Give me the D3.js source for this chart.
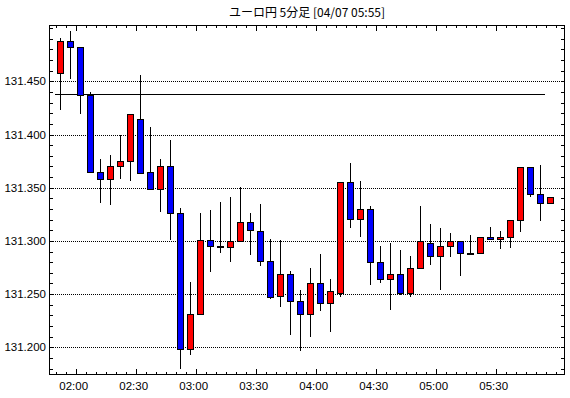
<!DOCTYPE html>
<html>
<head>
<meta charset="utf-8">
<script src="https://cdn.jsdelivr.net/npm/d3@7"></script>
<style>
body { margin: 0; background: #fff; }
text { font-family: "Liberation Sans", Arial, sans-serif; fill: #000; }
</style>
</head>
<body>
<div id="chart"></div>
<script>
// 5-minute candles, 04/07 01:50 - 05:55
var times = ["01:50","01:55","02:00","02:05","02:10","02:15","02:20","02:25","02:30","02:35",
	"02:40","02:45","02:50","02:55","03:00","03:05","03:10","03:15","03:20","03:25",
	"03:30","03:35","03:40","03:45","03:50","03:55","04:00","04:05","04:10","04:15",
	"04:20","04:25","04:30","04:35","04:40","04:45","04:50","04:55","05:00","05:05",
	"05:10","05:15","05:20","05:25","05:30","05:35","05:40","05:45","05:50","05:55"];

var openVals = [131.458,131.488,131.482,131.437,131.365,131.358,131.370,131.375,131.415,131.365,
	131.349,131.370,131.326,131.198,131.231,131.301,131.295,131.294,131.300,131.318,
	131.309,131.281,131.248,131.269,131.244,131.231,131.260,131.242,131.251,131.355,
	131.321,131.330,131.280,131.264,131.269,131.251,131.275,131.298,131.286,131.295,
	131.300,131.289,131.289,131.304,131.302,131.304,131.320,131.369,131.344,131.336];
var highVals = [131.491,131.497,131.482,131.440,131.377,131.381,131.400,131.419,131.456,131.407,
	131.377,131.395,131.331,131.261,131.326,131.329,131.337,131.341,131.351,131.326,
	131.335,131.302,131.301,131.272,131.254,131.275,131.288,131.264,131.355,131.373,
	131.356,131.333,131.295,131.298,131.291,131.286,131.333,131.316,131.312,131.307,
	131.300,131.306,131.304,131.313,131.309,131.320,131.369,131.369,131.371,131.341];
var lowVals = [131.423,131.452,131.419,131.364,131.336,131.334,131.358,131.356,131.364,131.348,
	131.327,131.301,131.180,131.193,131.230,131.271,131.289,131.280,131.300,131.287,
	131.276,131.245,131.238,131.212,131.197,131.210,131.234,131.214,131.247,131.312,
	131.304,131.259,131.260,131.235,131.249,131.247,131.275,131.277,131.254,131.285,
	131.267,131.289,131.288,131.302,131.292,131.293,131.308,131.341,131.319,131.335];
var closeVals = [131.488,131.482,131.437,131.365,131.358,131.370,131.375,131.419,131.364,131.349,
	131.370,131.326,131.198,131.231,131.301,131.295,131.295,131.300,131.318,131.310,
	131.281,131.247,131.269,131.244,131.231,131.260,131.242,131.253,131.355,131.321,
	131.330,131.280,131.264,131.269,131.251,131.275,131.300,131.286,131.295,131.300,
	131.289,131.289,131.304,131.302,131.304,131.320,131.369,131.344,131.336,131.341];

var refLine = 131.438;
var yLabels = ["131.200","131.250","131.300","131.350","131.400","131.450"];
var xLabels = ["02:00","02:30","03:00","03:30","04:00","04:30","05:00","05:30"];
var title = "ユーロ円 5分足 [04/07 05:55]";

var svgWidth = 570,
	svgHeight = 398,
	plotL = 49, plotR = 565, plotT = 25, plotB = 375;

var parse = function (s) {
	var p = s.split(':');
	return new Date(2021, 3, 7, +p[0], +p[1]);
};

var candles = times.map(function (t, i) {
	return { t: parse(t), o: openVals[i], h: highVals[i], l: lowVals[i], c: closeVals[i] };
});

var xscale = d3.scaleTime()
	.domain([new Date(2021, 3, 7, 1, 46, 40), new Date(2021, 3, 7, 6, 4, 40)])
	.range([plotL, plotR]);

var yscale = d3.scaleLinear()
	.domain([131.174, 131.5029])
	.range([plotB, plotT]);

var cx = function (d) {
	return Math.round(xscale(d3.timeSecond.offset(d.t, 135)));
};

var svg = d3.select('#chart')
	.append('svg')
	.attr('width', svgWidth)
	.attr('height', svgHeight)
	.style('display', 'block');

svg.append('rect')
	.attr('width', svgWidth).attr('height', svgHeight).attr('fill', '#fff');

// title
svg.append('text')
	.attr('x', (plotL + plotR) / 2)
	.attr('y', 17)
	.attr('text-anchor', 'middle')
	.style('font-family', '"Noto Sans CJK JP", sans-serif')
	.style('font-size', '12px')
	.text(title);

// dotted grid
svg.append('g').selectAll('line').data(yLabels)
	.enter().append('line')
	.attr('x1', plotL).attr('x2', plotR)
	.attr('y1', function (d) { return Math.round(yscale(+d)) + 0.5; })
	.attr('y2', function (d) { return Math.round(yscale(+d)) + 0.5; })
	.attr('stroke', '#000')
	.attr('stroke-dasharray', '1,1')
	.attr('shape-rendering', 'crispEdges');

// y ticks every 0.010
var yTicks = d3.range(13118, 13151).map(function (d) { return d / 100; });
var ytk = svg.append('g').attr('shape-rendering', 'crispEdges');
ytk.selectAll('line.l').data(yTicks).enter().append('line')
	.attr('class', 'l')
	.attr('x1', plotL).attr('x2', plotL + 4)
	.attr('y1', function (d) { return Math.round(yscale(d)) + 0.5; })
	.attr('y2', function (d) { return Math.round(yscale(d)) + 0.5; })
	.attr('stroke', '#000');
ytk.selectAll('line.r').data(yTicks).enter().append('line')
	.attr('class', 'r')
	.attr('x1', plotR - 4).attr('x2', plotR)
	.attr('y1', function (d) { return Math.round(yscale(d)) + 0.5; })
	.attr('y2', function (d) { return Math.round(yscale(d)) + 0.5; })
	.attr('stroke', '#000');

svg.append('g').selectAll('text').data(yLabels)
	.enter().append('text')
	.attr('x', plotL - 3)
	.attr('y', function (d) { return yscale(+d) + 4; })
	.attr('text-anchor', 'end')
	.style('font-size', '11.5px')
	.text(function (d) { return d; });

// x ticks every 5 minutes
var xTicks = d3.timeMinute.every(5).range(new Date(2021, 3, 7, 1, 50), new Date(2021, 3, 7, 6, 1));
var isMajor = function (d) { return xLabels.indexOf(d3.timeFormat('%H:%M')(d)) >= 0; };
var xtk = svg.append('g').attr('shape-rendering', 'crispEdges');
xtk.selectAll('line.b').data(xTicks).enter().append('line')
	.attr('class', 'b')
	.attr('x1', function (d) { return Math.round(xscale(d)) + 0.5; })
	.attr('x2', function (d) { return Math.round(xscale(d)) + 0.5; })
	.attr('y1', plotB)
	.attr('y2', function (d) { return plotB - (isMajor(d) ? 6 : 3); })
	.attr('stroke', '#000');
xtk.selectAll('line.t').data(xTicks).enter().append('line')
	.attr('class', 't')
	.attr('x1', function (d) { return Math.round(xscale(d)) + 0.5; })
	.attr('x2', function (d) { return Math.round(xscale(d)) + 0.5; })
	.attr('y1', plotT)
	.attr('y2', function (d) { return plotT + (isMajor(d) ? 6 : 3); })
	.attr('stroke', '#000');

svg.append('g').selectAll('text').data(xLabels)
	.enter().append('text')
	.attr('x', function (d) { return xscale(parse(d)) - 2; })
	.attr('y', plotB + 15)
	.attr('text-anchor', 'middle')
	.style('font-size', '11.5px')
	.text(function (d) { return d; });

// reference line
svg.append('line')
	.attr('x1', Math.round(xscale(d3.timeSecond.offset(candles[0].t, -15))))
	.attr('x2', Math.round(xscale(d3.timeSecond.offset(candles[candles.length - 1].t, -15))))
	.attr('y1', Math.round(yscale(refLine)) + 0.5)
	.attr('y2', Math.round(yscale(refLine)) + 0.5)
	.attr('stroke', '#000')
	.attr('shape-rendering', 'crispEdges');

// candles
var cg = svg.append('g').attr('shape-rendering', 'crispEdges')
	.selectAll('g').data(candles)
	.enter().append('g');

cg.append('line')
	.attr('x1', function (d) { return cx(d) + 0.5; })
	.attr('x2', function (d) { return cx(d) + 0.5; })
	.attr('y1', function (d) { return Math.round(yscale(d.h)); })
	.attr('y2', function (d) { return Math.round(yscale(d.l)); })
	.attr('stroke', '#000');

cg.append('rect')
	.attr('x', function (d) { return cx(d) - 2.5; })
	.attr('width', 6)
	.attr('y', function (d) { return Math.round(yscale(Math.max(d.o, d.c))) + 0.5; })
	.attr('height', function (d) {
		return Math.max(1, Math.round(yscale(Math.min(d.o, d.c))) - Math.round(yscale(Math.max(d.o, d.c))));
	})
	.style('fill', function (d) {
		if (d.c > d.o) return '#ff0000';
		if (d.c < d.o) return '#0000ff';
		return '#000';
	})
	.attr('stroke', '#000');

// frame
svg.append('rect')
	.attr('x', plotL + 0.5).attr('y', plotT + 0.5)
	.attr('width', plotR - plotL - 1).attr('height', plotB - plotT - 1)
	.attr('fill', 'none')
	.attr('stroke', '#000')
	.attr('stroke-width', 1.5)
	.attr('shape-rendering', 'crispEdges');
</script>
</body>
</html>
